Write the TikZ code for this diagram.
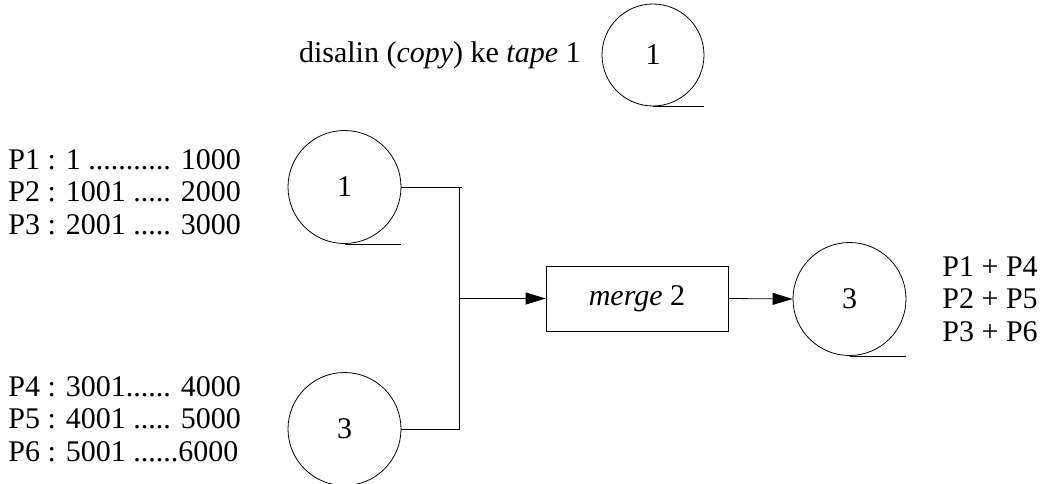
\documentclass[tikz,border=0pt]{standalone}
\usepackage{fontspec}
\setmainfont{Liberation Serif}
\usetikzlibrary{arrows.meta,positioning}

\tikzset{
  tape/.style={draw,circle,inner sep=0pt,minimum size=113pt},
  smalltape/.style={tape,minimum size=102pt},
  mergebox/.style={draw,rectangle,minimum width=182pt,minimum height=65pt},
  label/.style={inner sep=0pt,align=left,font=\fontsize{30}{32.5}\selectfont},
}

\begin{document}
\begin{tikzpicture}[x=1pt,y=-1pt,line width=0.8pt,
    >={Triangle[length=20pt,width=12pt]},font=\fontsize{30}{32.5}\selectfont]
        \useasboundingbox (0,0) rectangle (1054,484);
        % the tapes
        \node[smalltape] (top) at (653,55) {1};
        \node[tape] (t1) at (344.5,187) {1};
        \node[tape] (t3) at (344.5,429) {3};
        \node[mergebox] (merge) at (637,298.5) {\textit{merge} 2};
        \node[tape] (out) at (849.5,299) {3};
        \foreach \t in {top,t1,t3,out} {
          \draw (\t.south) -- (\t.south -| \t.east);
        }
        % texts
        \node[label,anchor=east] (copy) at (581,55) {disalin (\textit{copy}) ke \textit{tape} 1};
        \node[label,anchor=west] (runsA) at (8,192) {P1 : 1 ........... 1000\\P2 : 1001 ..... 2000\\P3 : 2001 ..... 3000};
        \node[label,anchor=west] (runsB) at (8,419) {P4 : 3001...... 4000\\P5 : 4001 ..... 5000\\P6 : 5001 ......6000};
        \node[label,anchor=west] (runsC) at (942,299) {P1 + P4\\P2 + P5\\P3 + P6};
        % connectors
        \coordinate (join) at (459,0);
        \coordinate (stub) at (462,0);
        \draw (t1.east) -- (t1.east -| stub);
        \draw (t1.east -| join) -- (t3.east -| join) -- (t3.east);
        \draw[->] (merge.west -| join) -- (merge.west);
        \draw[->] (merge.east) -- (out.west);
      \end{tikzpicture}
\end{document}
